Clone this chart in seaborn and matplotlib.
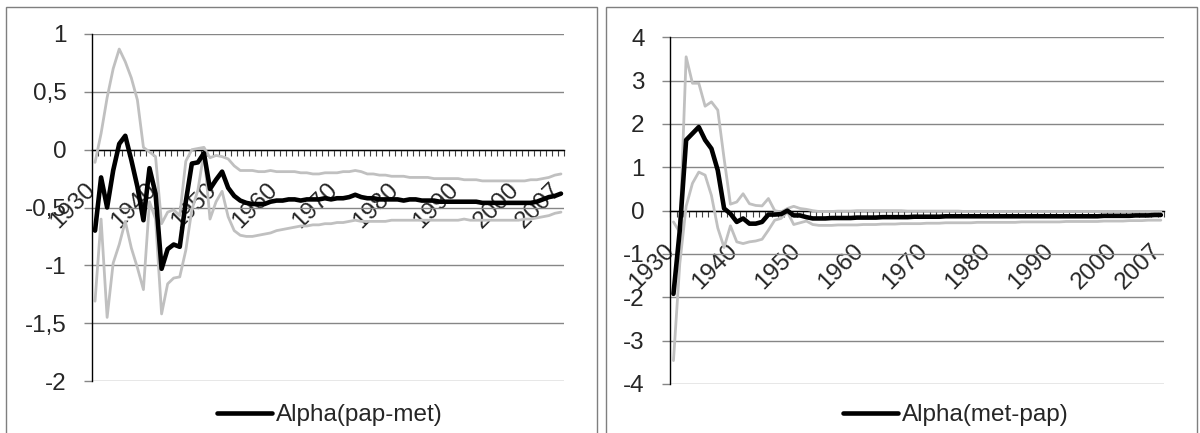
import numpy as np
import pandas as pd
import matplotlib
matplotlib.use("Agg")
import matplotlib.pyplot as plt
import matplotlib.transforms as mtransforms
from matplotlib.patches import Rectangle
import seaborn as sns

# ---------------- data ----------------
years = list(range(1930, 2008))
tick_years = [1930, 1940, 1950, 1960, 1970, 1980, 1990, 2000, 2007]

pap_met_alpha = [
    -0.70, -0.24, -0.50, -0.18, 0.05, 0.12, -0.09, -0.32, -0.61, -0.16,
    -0.38, -1.03, -0.86, -0.82, -0.84, -0.45, -0.12, -0.11, -0.03, -0.34,
    -0.26, -0.19, -0.33, -0.40, -0.44, -0.46, -0.47, -0.47, -0.47, -0.45,
    -0.44, -0.44, -0.43, -0.43, -0.44, -0.43, -0.43, -0.43, -0.42, -0.43,
    -0.42, -0.42, -0.41, -0.39, -0.41, -0.42, -0.42, -0.43, -0.43, -0.43,
    -0.43, -0.44, -0.43, -0.43, -0.44, -0.44, -0.44, -0.45, -0.45, -0.45,
    -0.45, -0.45, -0.45, -0.45, -0.46, -0.46, -0.46, -0.46, -0.46, -0.46,
    -0.46, -0.46, -0.46, -0.45, -0.43, -0.41, -0.40, -0.38]
pap_met_upper = [
    -0.11, 0.14, 0.45, 0.70, 0.87, 0.76, 0.62, 0.43, 0.02, -0.02,
    -0.06, -0.64, -0.54, -0.52, -0.57, -0.10, 0.00, 0.01, 0.02, -0.07,
    -0.05, -0.06, -0.08, -0.14, -0.18, -0.18, -0.18, -0.19, -0.19, -0.18,
    -0.19, -0.19, -0.19, -0.19, -0.20, -0.20, -0.21, -0.21, -0.20, -0.20,
    -0.20, -0.19, -0.19, -0.18, -0.19, -0.21, -0.21, -0.22, -0.22, -0.23,
    -0.23, -0.23, -0.24, -0.24, -0.24, -0.24, -0.25, -0.25, -0.25, -0.25,
    -0.25, -0.26, -0.26, -0.26, -0.27, -0.27, -0.27, -0.27, -0.27, -0.27,
    -0.27, -0.27, -0.26, -0.26, -0.25, -0.24, -0.22, -0.21]
pap_met_lower = [
    -1.31, -0.60, -1.45, -0.98, -0.82, -0.62, -0.85, -1.02, -1.21, -0.45,
    -0.60, -1.42, -1.16, -1.11, -1.10, -0.87, -0.52, -0.35, -0.02, -0.60,
    -0.45, -0.36, -0.58, -0.70, -0.74, -0.75, -0.75, -0.74, -0.73, -0.72,
    -0.70, -0.69, -0.68, -0.67, -0.66, -0.66, -0.65, -0.65, -0.64, -0.64,
    -0.63, -0.63, -0.62, -0.61, -0.62, -0.62, -0.62, -0.62, -0.62, -0.61,
    -0.61, -0.61, -0.61, -0.61, -0.61, -0.61, -0.61, -0.61, -0.61, -0.61,
    -0.61, -0.60, -0.61, -0.61, -0.61, -0.61, -0.61, -0.61, -0.61, -0.61,
    -0.61, -0.60, -0.60, -0.59, -0.58, -0.57, -0.55, -0.54]

met_pap_alpha = [
    -1.92, -0.45, 1.63, 1.78, 1.93, 1.63, 1.43, 0.93, 0.05, -0.07,
    -0.26, -0.18, -0.30, -0.30, -0.26, -0.09, -0.09, -0.08, 0.00, -0.11,
    -0.11, -0.15, -0.18, -0.18, -0.18, -0.17, -0.17, -0.17, -0.17, -0.16,
    -0.16, -0.16, -0.16, -0.15, -0.15, -0.15, -0.15, -0.15, -0.14, -0.14,
    -0.14, -0.14, -0.14, -0.13, -0.13, -0.13, -0.13, -0.13, -0.13, -0.13,
    -0.13, -0.13, -0.13, -0.13, -0.13, -0.13, -0.13, -0.13, -0.13, -0.13,
    -0.13, -0.13, -0.13, -0.13, -0.13, -0.13, -0.13, -0.13, -0.12, -0.12,
    -0.12, -0.12, -0.12, -0.11, -0.11, -0.11, -0.10, -0.10]
met_pap_upper = [
    -0.26, -0.50, 3.55, 2.94, 2.94, 2.41, 2.51, 2.32, 1.20, 0.15,
    0.20, 0.39, 0.16, 0.12, 0.11, 0.28, 0.00, -0.03, 0.05, 0.10,
    0.05, 0.03, 0.00, -0.02, -0.02, -0.02, -0.01, -0.01, -0.01, 0.00,
    0.00, 0.00, 0.00, 0.00, 0.00, 0.00, 0.00, -0.01, -0.01, -0.01,
    -0.01, -0.01, -0.01, -0.01, -0.01, -0.01, -0.02, -0.02, -0.02, -0.02,
    -0.02, -0.02, -0.02, -0.02, -0.02, -0.02, -0.02, -0.02, -0.02, -0.02,
    -0.02, -0.02, -0.02, -0.02, -0.02, -0.02, -0.02, -0.02, -0.02, -0.02,
    -0.02, -0.02, -0.02, -0.02, -0.02, -0.02, -0.02, -0.02]
met_pap_lower = [
    -3.46, -1.22, 0.10, 0.63, 0.89, 0.82, 0.35, -0.40, -0.85, -0.35,
    -0.72, -0.76, -0.72, -0.70, -0.66, -0.45, -0.22, -0.18, -0.03, -0.32,
    -0.28, -0.24, -0.32, -0.34, -0.34, -0.34, -0.33, -0.33, -0.33, -0.33,
    -0.32, -0.32, -0.32, -0.31, -0.31, -0.31, -0.30, -0.30, -0.30, -0.30,
    -0.29, -0.29, -0.29, -0.28, -0.28, -0.28, -0.28, -0.28, -0.27, -0.27,
    -0.27, -0.27, -0.27, -0.27, -0.27, -0.26, -0.26, -0.26, -0.26, -0.26,
    -0.26, -0.26, -0.25, -0.25, -0.25, -0.25, -0.25, -0.25, -0.24, -0.24,
    -0.24, -0.24, -0.23, -0.23, -0.23, -0.22, -0.22, -0.22]

left_label = "Alpha(pap-met)"
right_label = "Alpha(met-pap)"
left_yticks = [-2, -1.5, -1, -0.5, 0, 0.5, 1]
right_yticks = [-4, -3, -2, -1, 0, 1, 2, 3, 4]

# ---------------- style ----------------
sns.set_style("white")
plt.rcParams["font.family"] = ["Liberation Sans", "DejaVu Sans"]
FS = 17.5
W, H = 1200, 433
fig = plt.figure(figsize=(W / 100, H / 100), dpi=100)

GRAY = "#C0C0C0"
GRID = "#868686"


def fmt(v):
    s = ("%g" % v).replace(".", ",")
    return s


def panel(rect_px, upper, lower, alpha, label, yticks, legend_cx):
    x0, x1, ytop, ybot = rect_px
    ax = fig.add_axes([x0 / W, (H - ybot) / H, (x1 - x0) / W, (ybot - ytop) / H])
    idx = np.arange(len(years))
    df = pd.DataFrame({"i": idx, "upper": upper, "lower": lower, "alpha": alpha})
    sns.lineplot(data=df, x="i", y="lower", ax=ax, color=GRAY, lw=2.0, legend=False)
    sns.lineplot(data=df, x="i", y="upper", ax=ax, color=GRAY, lw=2.0, legend=False)
    sns.lineplot(data=df, x="i", y="alpha", ax=ax, color="black", lw=3.3, label=label)

    ax.set_xlim(-0.5, len(years) - 0.5)
    ax.set_ylim(yticks[0], yticks[-1])
    ax.set_xlabel("")
    ax.set_ylabel("")

    # y axis
    ax.set_yticks(yticks)
    ax.set_yticklabels([fmt(v) for v in yticks], fontsize=FS)
    ax.tick_params(axis="y", direction="out", length=6, width=1, color=GRID, pad=12.5,
                   left=True)
    ax.yaxis.grid(True, color=GRID, lw=1)
    ax.xaxis.grid(False)
    ax.set_axisbelow(True)

    # x axis crossing at 0
    for s in ["top", "right"]:
        ax.spines[s].set_visible(False)
    ax.spines["left"].set_color("black")
    ax.spines["left"].set_linewidth(1)
    ax.spines["bottom"].set_position(("data", 0))
    ax.spines["bottom"].set_color("black")
    ax.spines["bottom"].set_linewidth(1)
    ax.spines["bottom"].set_zorder(1.5)

    pos = [years.index(y) for y in tick_years]
    ax.set_xticks(pos)
    ax.set_xticklabels([str(y) for y in tick_years], fontsize=FS, rotation=45,
                       ha="right", va="top")
    ax.set_xticks(np.arange(-0.5, len(years)), minor=True)
    ax.tick_params(axis="x", which="major", length=0, pad=21, bottom=True)
    ax.tick_params(axis="x", which="minor", length=4.5, width=0.8, color="#404040",
                   direction="out", bottom=True)
    off = mtransforms.ScaledTranslation(5 / 100, 0, fig.dpi_scale_trans)
    for lab in ax.get_xticklabels():
        lab.set_transform(lab.get_transform() + off)

    h, l = ax.get_legend_handles_labels()
    ax.legend(h, l, loc="center", bbox_to_anchor=(legend_cx / W, 18 / H),
              bbox_transform=fig.transFigure, frameon=False, fontsize=FS,
              handlelength=2.25, handletextpad=0.15, borderpad=0, borderaxespad=0)
    return ax


panel((92, 564, 34, 381), pap_met_upper, pap_met_lower, pap_met_alpha,
      left_label, left_yticks, 330)
panel((670.3, 1164, 37.3, 384), met_pap_upper, met_pap_lower, met_pap_alpha,
      right_label, right_yticks, 956)

# outer panel borders
for bx0, bx1 in [(6, 597), (606, 1197)]:
    fig.add_artist(Rectangle((bx0 / W, -0.1), (bx1 - bx0) / W, (H - 7) / H + 0.1,
                             transform=fig.transFigure, fill=False,
                             ec="#7f7f7f", lw=1))

fig.savefig("out.png", dpi=100)
